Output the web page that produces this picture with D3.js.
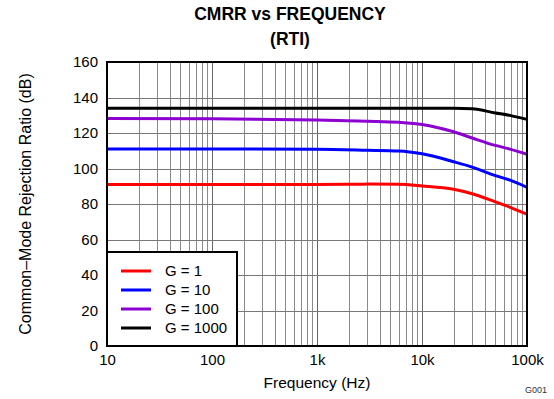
<!DOCTYPE html>
<html>
<head>
<meta charset="utf-8">
<script src="https://cdn.jsdelivr.net/npm/d3@7"></script>
<style>
  body { margin: 0; background: #fff; }
  text { font-family: "Liberation Sans", Arial, sans-serif; }
</style>
</head>
<body>
<script>
// values
var freqs = [10, 100, 1000, 3000, 6000, 10000, 20000, 30000, 50000, 70000, 100000];
var g1 = [91, 91, 91, 91.2, 91.1, 90.2, 88.3, 85.8, 81.2, 78, 74.2];
var g10 = [111, 111, 110.8, 110.3, 109.9, 108.3, 103.8, 100.8, 96, 93.3, 89.4];
var g100 = [128.2, 128, 127.3, 126.6, 126, 124.8, 120.7, 117.2, 113, 110.8, 108];
var g1000 = [134, 134, 134, 134, 134, 134, 134, 133.6, 131.3, 129.8, 127.7];
var seriesNames = ['G = 1', 'G = 10', 'G = 100', 'G = 1000'];
var seriesColors = ['#ff0000', '#0000ff', '#8b00d0', '#000000'];
var yTicks = [0, 20, 40, 60, 80, 100, 120, 140, 160];
var xTicks = [10, 100, 1000, 10000, 100000];
var xTickLabels = ['10', '100', '1k', '10k', '100k'];

var W = 554, H = 399;
var m = { left: 107, right: 27, top: 62, bottom: 53 };
var w = W - m.left - m.right, h = H - m.top - m.bottom;

var svg = d3.select('body').append('svg')
  .attr('width', W)
  .attr('height', H);

var x = d3.scaleLog().domain([10, 100000]).range([m.left, m.left + w]);
var y = d3.scaleLinear().domain([0, 160]).range([m.top + h, m.top]);

// grid
var minor = [];
for (var d = 10; d < 100000; d *= 10) {
  for (var k = 1; k < 10; k++) minor.push(d * k);
}
svg.append('g').selectAll('line').data(minor).enter().append('line')
  .attr('x1', function(f) { return Math.round(x(f)) + 0.5; })
  .attr('x2', function(f) { return Math.round(x(f)) + 0.5; })
  .attr('y1', m.top).attr('y2', m.top + h)
  .attr('stroke', function(f, i) { return i % 9 === 0 ? '#666' : '#8a8a8a'; })
  .attr('stroke-width', 1);

svg.append('g').selectAll('line').data(yTicks).enter().append('line')
  .attr('x1', m.left).attr('x2', m.left + w)
  .attr('y1', function(v) { return Math.round(y(v)) + 0.5; })
  .attr('y2', function(v) { return Math.round(y(v)) + 0.5; })
  .attr('stroke', '#777')
  .attr('stroke-width', 1);

// curves
var line = d3.line()
  .x(function(d) { return x(d[0]); })
  .y(function(d) { return y(d[1]); })
  .curve(d3.curveMonotoneX);

var allSeries = [g1, g10, g100, g1000];
allSeries.forEach(function(vals, i) {
  svg.append('path')
    .datum(freqs.map(function(f, j) { return [f, vals[j]]; }))
    .attr('fill', 'none')
    .attr('stroke', seriesColors[i])
    .attr('stroke-width', 3)
    .attr('d', line);
});

// frame
svg.append('rect')
  .attr('x', m.left).attr('y', m.top)
  .attr('width', w).attr('height', h)
  .attr('fill', 'none')
  .attr('stroke', '#000')
  .attr('stroke-width', 2);

// axes (labels only)
var yAxis = svg.append('g')
  .attr('transform', 'translate(' + m.left + ',0)')
  .call(d3.axisLeft(y).tickValues(yTicks).tickSize(0).tickPadding(9));
var xAxis = svg.append('g')
  .attr('transform', 'translate(0,' + (m.top + h) + ')')
  .call(d3.axisBottom(x).tickValues(xTicks).tickSize(0).tickPadding(8)
    .tickFormat(function(d, i) { return xTickLabels[i]; }));
[yAxis, xAxis].forEach(function(a) {
  a.select('.domain').remove();
  a.selectAll('text')
    .attr('font-family', '"Liberation Sans", Arial, sans-serif')
    .attr('font-size', 15)
    .attr('fill', '#000');
});

// legend
var lg = svg.append('g');
lg.append('rect')
  .attr('x', m.left).attr('y', 252)
  .attr('width', 130).attr('height', m.top + h - 252)
  .attr('fill', '#fff')
  .attr('stroke', '#000')
  .attr('stroke-width', 2);
seriesNames.forEach(function(n, i) {
  var ly = 271 + i * 19;
  lg.append('line')
    .attr('x1', 121).attr('x2', 151)
    .attr('y1', ly).attr('y2', ly)
    .attr('stroke', seriesColors[i])
    .attr('stroke-width', 3);
  lg.append('text')
    .attr('x', 165).attr('y', ly + 5)
    .attr('font-size', 15)
    .text(n);
});

// titles
svg.append('text')
  .attr('x', 290).attr('y', 20)
  .attr('text-anchor', 'middle')
  .attr('font-size', 17.5).attr('font-weight', 'bold')
  .text('CMRR vs FREQUENCY');
svg.append('text')
  .attr('x', 290).attr('y', 45)
  .attr('text-anchor', 'middle')
  .attr('font-size', 17.5).attr('font-weight', 'bold')
  .text('(RTI)');
svg.append('text')
  .attr('x', m.left + w / 2).attr('y', 388)
  .attr('text-anchor', 'middle')
  .attr('font-size', 15.5)
  .text('Frequency (Hz)');
svg.append('text')
  .attr('transform', 'translate(31,' + (m.top + h / 2) + ') rotate(-90)')
  .attr('text-anchor', 'middle')
  .attr('font-size', 16)
  .text('Common\u2013Mode Rejection Ratio (dB)');
svg.append('text')
  .attr('x', 547).attr('y', 393)
  .attr('text-anchor', 'end')
  .attr('font-size', 9)
  .attr('fill', '#333')
  .text('G001');
</script>
</body>
</html>
